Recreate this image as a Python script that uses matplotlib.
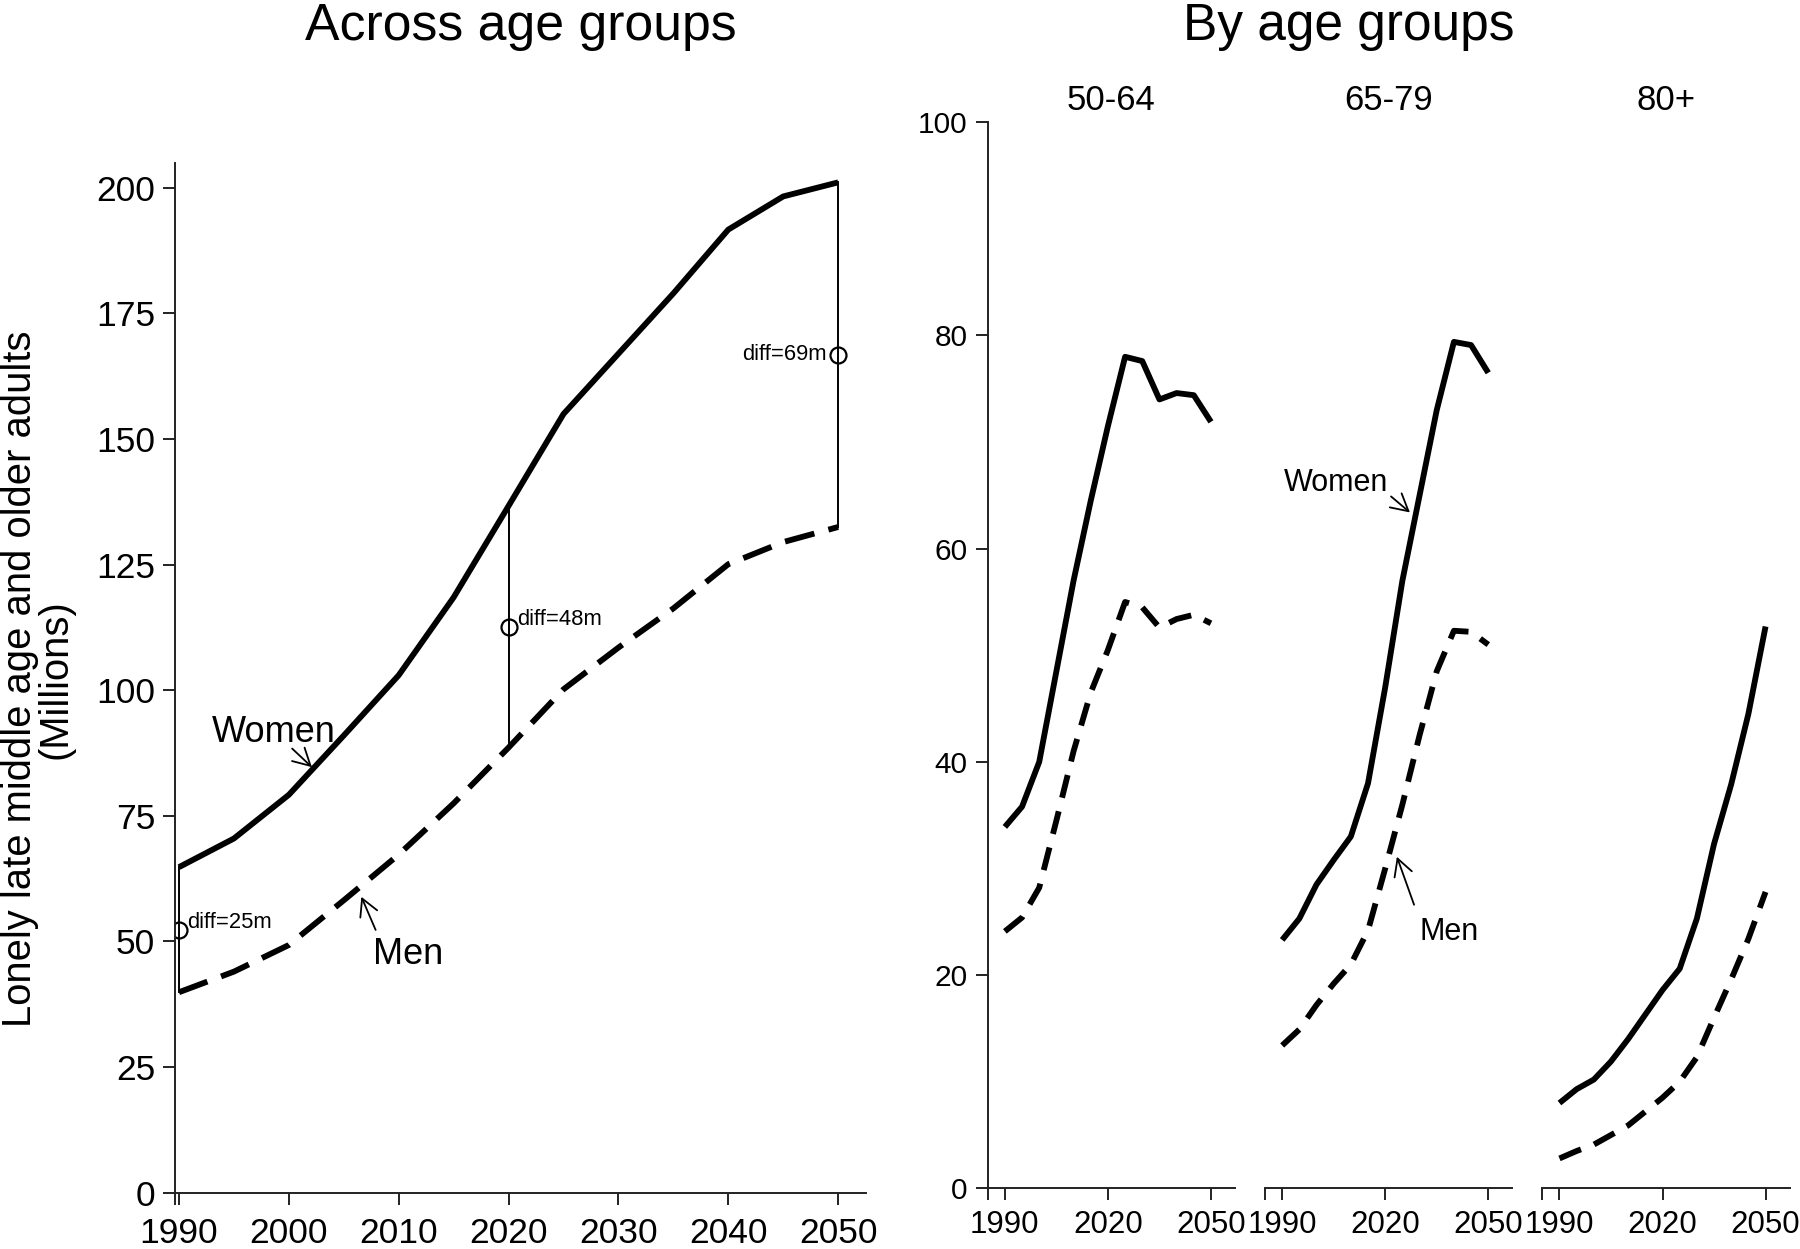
import matplotlib
matplotlib.use("Agg")
import matplotlib.pyplot as plt

plt.rcParams["font.family"] = ["Liberation Sans", "DejaVu Sans"]

# values, millions
years = [1990, 1995, 2000, 2005, 2010, 2015, 2020, 2025, 2030, 2035, 2040, 2045, 2050]

total_women = [64.8, 70.5, 79.2, 91.0, 103.0, 118.5, 136.7, 155.0, 167.0, 179.0, 191.7, 198.3, 201.1]
total_men = [39.9, 44.0, 49.3, 58.2, 67.3, 77.5, 88.6, 100.2, 108.5, 116.3, 125.1, 129.5, 132.5]
diff_years = [1990, 2020, 2050]

age_groups = ["50-64", "65-79", "80+"]
women_5064 = [33.9, 35.8, 40.0, 48.5, 57.0, 64.5, 71.5, 78.0, 77.6, 74.0, 74.6, 74.4, 71.9]
men_5064 = [24.1, 25.4, 28.2, 34.5, 41.0, 46.5, 50.5, 55.0, 54.5, 52.6, 53.4, 53.8, 53.0]
women_6579 = [23.3, 25.3, 28.5, 30.8, 33.0, 38.0, 47.0, 57.0, 65.0, 73.0, 79.4, 79.1, 76.5]
men_6579 = [13.4, 14.9, 17.2, 19.2, 21.0, 24.2, 30.0, 36.0, 42.5, 48.5, 52.3, 52.2, 51.0]
women_80 = [8.0, 9.3, 10.2, 11.9, 14.0, 16.3, 18.6, 20.6, 25.3, 32.3, 37.9, 44.5, 52.7]
men_80 = [2.8, 3.5, 4.1, 5.0, 5.9, 7.2, 8.5, 10.0, 12.3, 16.0, 19.6, 23.4, 27.8]

group_women = [women_5064, women_6579, women_80]
group_men = [men_5064, men_6579, men_80]

LW = 4.2
AXIS_LW = 1.4
AXIS_COLOR = "#222222"

fig = plt.figure(figsize=(18, 12.49), dpi=100)


def style_axes(ax, show_y, tick_size, xpad):
    ax.spines["top"].set_visible(False)
    ax.spines["right"].set_visible(False)
    for side in ["left", "bottom"]:
        ax.spines[side].set_linewidth(AXIS_LW)
        ax.spines[side].set_color(AXIS_COLOR)
    if not show_y:
        ax.spines["left"].set_visible(False)
        ax.set_yticks([])
    ax.tick_params(direction="out", length=8.5, width=AXIS_LW, color=AXIS_COLOR,
                   labelsize=tick_size)
    ax.tick_params(axis="x", pad=xpad)
    ax.tick_params(axis="y", pad=6)


def draw_pair(ax, women, men, dash):
    ax.plot(years, women, color="black", lw=LW, solid_capstyle="butt",
            solid_joinstyle="round")
    ax.plot(years, men, color="black", lw=LW, dashes=dash,
            dash_capstyle="butt", dash_joinstyle="round")


def pointer(ax, text, text_xy, tail, tip, size):
    ax.text(text_xy[0], text_xy[1], text, fontsize=size, va="baseline", ha="left")
    ax.annotate("", xy=tip, xytext=tail,
                arrowprops=dict(arrowstyle="->,head_length=0.55,head_width=0.3",
                                lw=1.3, color="black", shrinkA=0, shrinkB=0,
                                mutation_scale=22))


# ---- left: across age groups ----
ax = fig.add_axes([0.0973, 0.04508, 0.3836, 0.8246])
ax.set_xlim(1989.65, 2052.5)
ax.set_ylim(0, 205)
draw_pair(ax, total_women, total_men, (5.2, 2.5))

for yr in diff_years:
    i = years.index(yr)
    w, m = total_women[i], total_men[i]
    mid = (w + m) / 2
    ax.plot([yr, yr], [m, w], color="black", lw=1.4)
    ax.plot(yr, mid, "o", mfc="none", mec="black", ms=11.5, mew=1.6)
    label = f"diff={round(w - m)}m"
    if yr == diff_years[-1]:
        ax.annotate(label, (yr, mid), xytext=(-8, 0), textcoords="offset points",
                    ha="right", va="center", fontsize=15.8)
    else:
        ax.annotate(label, (yr, mid), xytext=(6, 1), textcoords="offset points",
                    ha="left", va="baseline", fontsize=15.8)

pointer(ax, "Women", (1993.0, 89.7), (2000.3, 88.4), (2002.1, 84.7), 26)
pointer(ax, "Men", (2007.7, 45.6), (2007.9, 52.3), (2006.6, 58.9), 26)

style_axes(ax, True, 25.5, 9)
ax.set_yticks(range(0, 201, 25))
xt = [ax.get_xlim()[0]] + list(range(1990, 2051, 10))
ax.set_xticks(xt, [""] + [str(t) for t in range(1990, 2051, 10)])

fig.text(520.4 / 1800, 1 - 40 / 1249, "Across age groups", ha="center",
         va="baseline", fontsize=37.3)
fig.text(37.75 / 1800, 1 - 679 / 1249,
         "Lonely late middle age and older adults\n(Millions)",
         rotation=90, ha="center", va="center", fontsize=28.8, linespacing=0.92,
         multialignment="center")

# ---- right: by age groups ----
panel_left = [987.7, 1265.0, 1542.3]
panel_width = 247.3
for k, name in enumerate(age_groups):
    left = panel_left[k] / 1800
    pax = fig.add_axes([left, 0.0486, panel_width / 1800, 0.8535])
    pax.set_xlim(1985, 2057)
    pax.set_ylim(0, 100)
    draw_pair(pax, group_women[k], group_men[k], (4.0, 2.4))
    style_axes(pax, k == 0, 22.5, 7)
    if k == 0:
        pax.set_yticks(range(0, 101, 20))
        pax.tick_params(axis="y", labelsize=21.5)
    pax.set_xticks([1985, 1990, 2020, 2050], ["", "1990", "2020", "2050"])
    fig.text(left + panel_width / 1800 / 2, 1 - 110 / 1249, name, ha="center",
             va="baseline", fontsize=25)
    if name == "65-79":
        pointer(pax, "Women", (1990.5, 65.4), (2021.7, 64.9), (2027.2, 63.4), 22)
        pointer(pax, "Men", (2030.0, 23.3), (2028.4, 26.6), (2023.4, 31.1), 22)

fig.text(1349 / 1800, 1 - 40 / 1249, "By age groups", ha="center",
         va="baseline", fontsize=37)

fig.savefig("out.png", dpi=100)
